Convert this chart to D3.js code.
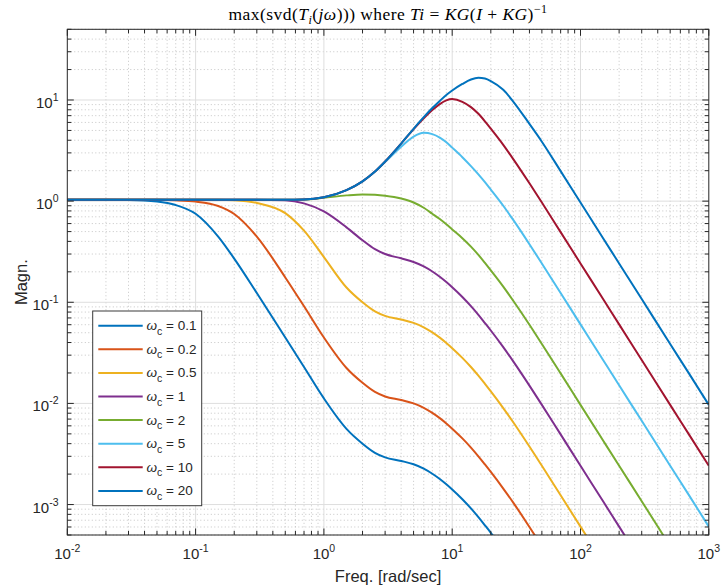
<!DOCTYPE html>
<html><head><meta charset="utf-8">
<script src="https://cdn.jsdelivr.net/npm/d3@7/dist/d3.min.js"></script>
<style>body{margin:0;background:#fff}svg{display:block}</style>
</head><body>
<svg id="chart" width="722" height="588"></svg>
<script>
// ---- data ----
const freq = [0.01, 0.02, 0.03, 0.05, 0.07, 0.1, 0.15, 0.2, 0.3, 0.5, 0.7, 1, 1.5, 2, 2.5, 3, 4, 5, 6, 7, 8, 9, 10, 12, 14, 16, 18, 20, 25, 30, 40, 50, 70, 100, 150, 200, 300, 500, 700, 1000];
const magWc01 = [1.03, 1.03, 1.025, 0.99, 0.915, 0.75, 0.446, 0.27, 0.1234, 0.0448, 0.0229, 0.0112, 0.0056, 0.004, 0.00325, 0.00293, 0.0027, 0.0025, 0.002262, 0.002015, 0.001787, 0.001584, 0.001407, 0.001127, 0.000915, 0.000751, 0.000623, 0.000526, 0.00036, 0.000259, 0.00015, 0.0000968, 0.0000494, 0.0000242, 0.0000108, 0.00000605, 0.00000269, 0.000000968, 0.000000494, 0.000000242];
const magWc02 = [1.03, 1.03, 1.03, 1.03, 1.02, 0.99, 0.895, 0.746, 0.446, 0.176, 0.0912, 0.0448, 0.0224, 0.016, 0.013, 0.01172, 0.0108, 0.01, 0.00905, 0.00806, 0.00715, 0.00634, 0.00563, 0.00451, 0.00366, 0.003, 0.00249, 0.0021, 0.00144, 0.00104, 0.0006, 0.000387, 0.000198, 0.0000968, 0.000043, 0.0000242, 0.0000108, 0.00000387, 0.00000198, 0.000000968];
const magWc05 = [1.03, 1.03, 1.03, 1.03, 1.03, 1.03, 1.03, 1.02, 0.96, 0.76, 0.51, 0.28, 0.14, 0.1, 0.0812, 0.0733, 0.0675, 0.0625, 0.0566, 0.0504, 0.0447, 0.0396, 0.0352, 0.0282, 0.0229, 0.0188, 0.0156, 0.01315, 0.009, 0.00648, 0.00375, 0.00242, 0.001235, 0.000605, 0.000269, 0.000151, 0.0000673, 0.0000242, 0.0000124, 0.00000605];
const magWc1 = [1.03, 1.03, 1.03, 1.03, 1.03, 1.03, 1.03, 1.03, 1.03, 1.02, 0.95, 0.79, 0.55, 0.41, 0.335, 0.3, 0.272, 0.25, 0.2262, 0.2015, 0.1787, 0.1584, 0.1407, 0.1127, 0.0915, 0.0751, 0.0623, 0.0526, 0.036, 0.0259, 0.015, 0.00968, 0.00494, 0.00242, 0.001076, 0.000605, 0.000269, 0.0000968, 0.0000494, 0.0000242];
const magWc2 = [1.03, 1.03, 1.03, 1.03, 1.03, 1.03, 1.03, 1.03, 1.03, 1.03, 1.035, 1.08, 1.14, 1.165, 1.155, 1.13, 1.06, 0.97, 0.86, 0.75, 0.665, 0.59, 0.525, 0.43, 0.355, 0.294, 0.245, 0.207, 0.143, 0.103, 0.06, 0.0387, 0.0198, 0.00968, 0.0043, 0.00242, 0.00108, 0.000387, 0.000198, 0.0000968];
const magWc5 = [1.03, 1.03, 1.03, 1.03, 1.03, 1.03, 1.03, 1.03, 1.03, 1.03, 1.035, 1.09, 1.285, 1.57, 1.95, 2.43, 3.45, 4.35, 4.74, 4.6, 4.25, 3.82, 3.38, 2.72, 2.22, 1.84, 1.54, 1.3, 0.9, 0.648, 0.375, 0.242, 0.1235, 0.0605, 0.0269, 0.0151, 0.00673, 0.00242, 0.00124, 0.000605];
const magWc10 = [1.03, 1.03, 1.03, 1.03, 1.03, 1.03, 1.03, 1.03, 1.03, 1.03, 1.035, 1.09, 1.285, 1.57, 1.96, 2.465, 3.71, 5.15, 6.6, 7.95, 9.1, 9.9, 10.2, 9.6, 8.5, 7.3, 6.15, 5.2, 3.6, 2.59, 1.5, 0.968, 0.494, 0.242, 0.1076, 0.0605, 0.0269, 0.00968, 0.00494, 0.00242];
const magWc20 = [1.03, 1.03, 1.03, 1.03, 1.03, 1.03, 1.03, 1.03, 1.03, 1.03, 1.035, 1.09, 1.285, 1.57, 1.96, 2.465, 3.71, 5.19, 6.76, 8.32, 9.79, 11.2, 12.4, 14.4, 15.95, 16.6, 16.3, 15.4, 12.6, 9.6, 5.8, 3.87, 1.98, 0.968, 0.43, 0.242, 0.1076, 0.0387, 0.0198, 0.00968];
const seriesNames = ["0.1", "0.2", "0.5", "1", "2", "5", "10", "20"];
const seriesValues = [magWc01, magWc02, magWc05, magWc1, magWc2, magWc5, magWc10, magWc20];
const seriesColors = ["#0072BD", "#D95319", "#EDB120", "#7E2F8E", "#77AC30", "#4DBEEE", "#A2142F", "#0072BD"];
const xMajorTicks = [0.01, 0.1, 1, 10, 100, 1000];
const xTickExps = ["-2", "-1", "0", "1", "2", "3"];
const yMajorTicks = [0.001, 0.01, 0.1, 1, 10];
const yTickExps = ["-3", "-2", "-1", "0", "1"];

// ---- layout ----
const L = 67.3, T = 29.3, R = 708.8, B = 535;
const svg = d3.select("#chart");
const x = d3.scaleLog().domain([0.01, 1000]).range([L, R]);
const y = d3.scaleLog().domain([5e-4, 50]).range([B, T]);
const axisCol = "#262626";
const sans = "'Liberation Sans', Arial, Helvetica, sans-serif";

svg.append("rect").attr("x", L).attr("y", T).attr("width", R - L).attr("height", B - T).attr("fill", "#fff");

const isMajor = v => Math.abs(Math.log10(v) - Math.round(Math.log10(v))) < 1e-9;
const xMinor = x.ticks().filter(v => !isMajor(v));
const yMinor = y.ticks().filter(v => !isMajor(v));

const grid = svg.append("g");
grid.selectAll(".mgx").data(xMinor).join("line")
  .attr("x1", d => x(d)).attr("x2", d => x(d)).attr("y1", T).attr("y2", B)
  .attr("stroke", "#b8b8b8").attr("stroke-width", 0.8).attr("stroke-dasharray", "1,2.5");
grid.selectAll(".mgy").data(yMinor).join("line")
  .attr("y1", d => y(d)).attr("y2", d => y(d)).attr("x1", L).attr("x2", R)
  .attr("stroke", "#b8b8b8").attr("stroke-width", 0.8).attr("stroke-dasharray", "1,2.5");
grid.selectAll(".Mgx").data(xMajorTicks.slice(1, -1)).join("line")
  .attr("x1", d => x(d)).attr("x2", d => x(d)).attr("y1", T).attr("y2", B)
  .attr("stroke", "#dedede").attr("stroke-width", 1);
grid.selectAll(".Mgy").data(yMajorTicks).join("line")
  .attr("y1", d => y(d)).attr("y2", d => y(d)).attr("x1", L).attr("x2", R)
  .attr("stroke", "#dedede").attr("stroke-width", 1);

// curves
svg.append("clipPath").attr("id", "clip").append("rect")
  .attr("x", L).attr("y", T).attr("width", R - L).attr("height", B - T);
const line = d3.line().x((d, i) => x(freq[i])).y(d => y(d)).curve(d3.curveMonotoneX);
const curves = svg.append("g").attr("clip-path", "url(#clip)");
seriesValues.forEach((vals, k) => {
  curves.append("path").attr("d", line(vals)).attr("fill", "none")
    .attr("stroke", seriesColors[k]).attr("stroke-width", 2).attr("stroke-linejoin", "round");
});

// ticks (inside, all four sides)
const tk = svg.append("g").attr("stroke", axisCol).attr("stroke-width", 1);
const majLen = 6.5, minLen = 4;
x.ticks().forEach(v => {
  const len = isMajor(v) ? majLen : minLen;
  tk.append("line").attr("x1", x(v)).attr("x2", x(v)).attr("y1", B).attr("y2", B - len);
  tk.append("line").attr("x1", x(v)).attr("x2", x(v)).attr("y1", T).attr("y2", T + len);
});
y.ticks().forEach(v => {
  const len = isMajor(v) ? majLen : minLen;
  tk.append("line").attr("y1", y(v)).attr("y2", y(v)).attr("x1", L).attr("x2", L + len);
  tk.append("line").attr("y1", y(v)).attr("y2", y(v)).attr("x1", R).attr("x2", R - len);
});
svg.append("rect").attr("x", L).attr("y", T).attr("width", R - L).attr("height", B - T)
  .attr("fill", "none").attr("stroke", axisCol).attr("stroke-width", 1);

// tick labels
const lab = svg.append("g").attr("font-family", sans).attr("fill", axisCol);
xMajorTicks.forEach((v, i) => {
  const t = lab.append("text").attr("x", x(v)).attr("y", B + 24).attr("text-anchor", "middle").attr("font-size", 15);
  t.append("tspan").text("10");
  t.append("tspan").attr("dy", -7).attr("font-size", 10.5).text(xTickExps[i]);
});
yMajorTicks.forEach((v, i) => {
  const t = lab.append("text").attr("x", 58.5).attr("y", y(v) + 8).attr("text-anchor", "end").attr("font-size", 15);
  t.append("tspan").text("10");
  t.append("tspan").attr("dy", -7).attr("font-size", 10.5).text(yTickExps[i]);
});

// axis labels
lab.append("text").attr("x", (L + R) / 2).attr("y", 582).attr("text-anchor", "middle")
  .attr("font-size", 16.5).text("Freq. [rad/sec]");
lab.append("text").attr("transform", `translate(26.5,${(T + B) / 2}) rotate(-90)`).attr("text-anchor", "middle")
  .attr("font-size", 16.5).text("Magn.");

// title (LaTeX-like)
const title = svg.append("text").attr("x", (L + R) / 2).attr("y", 20).attr("text-anchor", "middle")
  .attr("font-family", "'Liberation Serif', 'DejaVu Serif', serif").attr("font-size", 17.5)
  .attr("letter-spacing", 0.45).attr("fill", "#000");
const tparts = [["max(svd(", "n"], ["T", "i"], ["i", "sub"], ["(", "n"], ["jω", "i"], ["))) where ", "n"],
  ["Ti", "i"], [" = ", "n"], ["KG", "i"], ["(", "n"], ["I", "i"], [" + ", "n"], ["KG", "i"], [")", "n"], ["−1", "sup"]];
let shift = 0;
tparts.forEach(([txt, kind]) => {
  const s = title.append("tspan").text(txt);
  let target = 0;
  if (kind === "sub") { target = 4; s.attr("font-size", 12).attr("font-style", "italic"); }
  else if (kind === "sup") { target = -7; s.attr("font-size", 12); }
  else if (kind === "i") s.attr("font-style", "italic");
  if (target !== shift) { s.attr("dy", target - shift); shift = target; }
});

// legend
const lg = svg.append("g");
lg.append("rect").attr("x", 92.7).attr("y", 311).attr("width", 109).attr("height", 194.7)
  .attr("fill", "#fff").attr("stroke", "#3a3a3a").attr("stroke-width", 1);
seriesNames.forEach((name, k) => {
  const yy = 325.7 + k * 23.6;
  lg.append("line").attr("x1", 98.3).attr("x2", 142.7).attr("y1", yy).attr("y2", yy)
    .attr("stroke", seriesColors[k]).attr("stroke-width", 2);
  const t = lg.append("text").attr("x", 146.5).attr("y", yy + 4.5).attr("font-family", sans)
    .attr("font-size", 13.5).attr("fill", axisCol);
  t.append("tspan").attr("font-style", "italic").text("ω");
  t.append("tspan").attr("dy", 4.5).attr("font-size", 10.5).text("c");
  t.append("tspan").attr("dy", -4.5).text(" = " + name);
});
</script>
</body></html>
